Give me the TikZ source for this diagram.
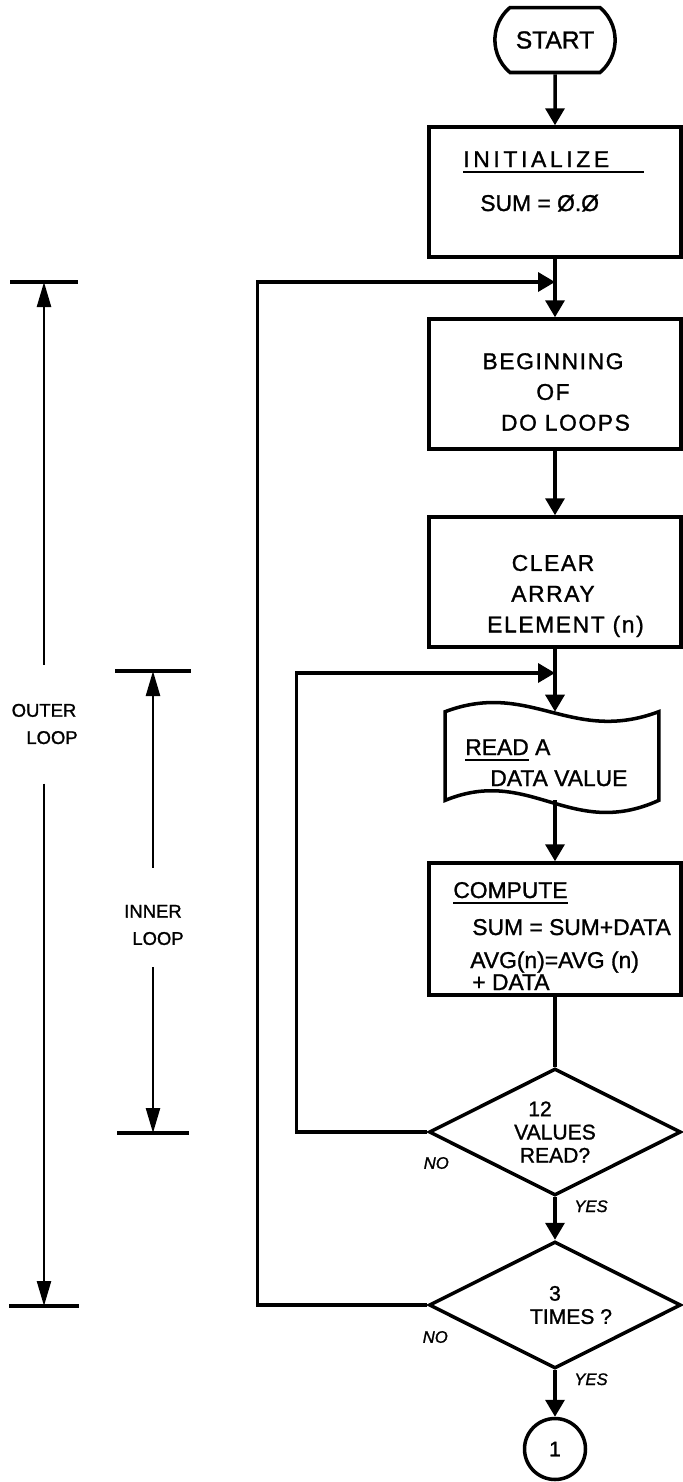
\documentclass[tikz,border=0pt]{standalone}
\usepackage{fontspec}
\setmainfont{Liberation Sans}[FakeBold=1.2]
\newfontfamily\spacedfont[LetterSpace=16, FakeBold=1.2]{Liberation Sans}
\usetikzlibrary{shapes.geometric, shapes.misc, arrows.meta, positioning}
\newsavebox{\ulbox}
\newcommand{\ulined}[2][0pt]{\sbox{\ulbox}{#2}\rlap{\rule[-3.3pt]{\dimexpr\wd\ulbox+#1\relax}{1.3pt}}\usebox{\ulbox}}
\tikzset{
  line/.style={draw=black, line width=2pt},
  arrow/.style={line, -{Triangle[length=0.34cm, width=0.38cm]}},
  dimline/.style={draw=black, line width=1.4pt, -{Triangle[length=0.5cm, width=0.28cm]}},
  dimtick/.style={draw=black, line width=2pt},
  terminal/.style={draw, line width=2pt, rounded rectangle, rounded rectangle arc length=100, minimum width=2.64cm, minimum height=1.3cm, font=\fontsize{14}{16}\selectfont},
  procbox/.style={draw, line width=2pt, rectangle, minimum width=5.04cm, minimum height=2.6cm},
  boxtext/.style={font=\fontsize{13}{18}\selectfont, align=center, inner sep=0pt},
  widetext/.style={boxtext, font=\fontsize{13}{17.5}\selectfont\addfontfeatures{LetterSpace=7}},
  decision/.style={draw, line width=2pt, diamond, aspect=2, inner sep=0pt, minimum width=5.04cm, minimum height=2.54cm, align=center, font=\fontsize{12}{13.2}\selectfont},
  connector/.style={draw, line width=2pt, circle, minimum size=1.22cm, inner sep=0pt, font=\fontsize{12}{14}\selectfont},
  looplabel/.style={font=\fontsize{10.5}{15.5}\selectfont, align=center, inner xsep=0pt},
  yn/.style={font=\fontsize{9.5}{11}\selectfont\itshape, inner sep=0pt}
}
\begin{document}
\begin{tikzpicture}[x=0.02cm, y=-0.02cm]
  \useasboundingbox (0,0) rectangle (683,1482);

  % main column
  \node [terminal] (start) at (555,40) {START};
  \node [procbox] (init) at (555,192) {};
  \node [procbox] (begin) at (555,384) {};
  \node [procbox] (clear) at (555,582) {};
  \node [minimum width=4.26cm, minimum height=1.76cm, inner sep=0pt] (read) at (552,756) {};
  \node [procbox, minimum height=2.64cm] (compute) at (555,929) {};
  \node [decision] (dec1) at (555,1132) {12\hspace*{0.6cm}\\VALUES\\READ?};
  \node [decision] (dec2) at (555,1305) {3\\\hspace*{0.64cm}TIMES ?};
  \node [connector] (conn) at (555,1449) {1};

  % texts in the boxes
  \node [boxtext, anchor=base west] (initT) at (463,167) {\ulined[20pt]{\spacedfont INITIALIZE}};
  \node [boxtext, anchor=base west] (initS) at (480,211) {SUM = Ø.Ø};
  \node [widetext] (beginT) at (553,392) {BEGINNING\\OF\\\hspace*{0.5cm}DO LOOPS};
  \node [widetext] (clearT) at (553,596) {CLEAR\\ARRAY\\\hspace*{0.5cm}ELEMENT (n)};
  \node [boxtext, anchor=base west] (readT) at (465,755) {\ulined{READ} A};
  \node [boxtext, anchor=base west] (readV) at (490,786) {DATA VALUE};
  \node [boxtext, anchor=base west] (compT) at (453,898) {\ulined{COMPUTE}};
  \node [boxtext, anchor=base west] (comp1) at (472,935) {SUM = SUM+DATA};
  \node [boxtext, anchor=base west] (comp2) at (470,968) {AVG(n)=AVG (n)};
  \node [boxtext, anchor=base west] (comp3) at (472,990) {+ DATA};

  % tape outline of the read step
  \draw [line] (read.north west) .. controls +(85,-32) and +(-88,33) .. (read.north east)
    -- (read.south east) .. controls +(-88,40) and +(85,-35) .. (read.south west) -- cycle;

  % flow
  \coordinate (outjoin) at (555,282);
  \coordinate (injoin) at (555,673);
  \draw [arrow] (start) -- (init);
  \draw [line] (init) -- (outjoin);
  \draw [arrow] (outjoin) -- (begin);
  \draw [arrow] (begin) -- (clear);
  \draw [arrow] (clear) -- (clear |- read.north);
  \draw [arrow] (read.south -| compute) -- (compute);
  \draw [line] (compute) -- (dec1);
  \draw [arrow] (dec1) -- (dec2);
  \draw [arrow] (dec2) -- (conn);

  % loops back
  \draw [arrow] (dec1.west) -- ++(-131,0) |- (injoin);
  \draw [arrow] (dec2.west) -- ++(-170,0) |- (outjoin);

  \path (dec1.south) ++(36,9) node [yn] (yes1) {YES};
  \path (dec1.west) ++(9,31) node [yn] (no1) {NO};
  \path (dec2.south) ++(36,9) node [yn] (yes2) {YES};
  \path (dec2.west) ++(8,32) node [yn] (no2) {NO};

  % loop extents
  \coordinate (otop) at (44,282);
  \coordinate (obot) at (44,1306);
  \node [looplabel, inner ysep=0.78cm] (outer) at (44,724) {OUTER\\\hspace*{0.32cm}LOOP};
  \draw [dimline] (outer.north) -- (otop);
  \draw [dimline] (outer.south) -- (obot);
  \draw [dimtick] (otop) +(-34,0) -- +(34,0);
  \draw [dimtick] (obot) +(-35,0) -- +(35,0);

  \coordinate (itop) at (153,671);
  \coordinate (ibot) at (153,1133);
  \node [looplabel, inner ysep=0.44cm] (inner) at (153,925) {INNER\\\hspace*{0.2cm}LOOP};
  \draw [dimline] ([yshift=0.3cm]inner.north) -- (itop);
  \draw [dimline] (inner.south) -- (ibot);
  \draw [dimtick] (itop) +(-38,0) -- +(38,0);
  \draw [dimtick] (ibot) +(-36,0) -- +(36,0);
\end{tikzpicture}
\end{document}
